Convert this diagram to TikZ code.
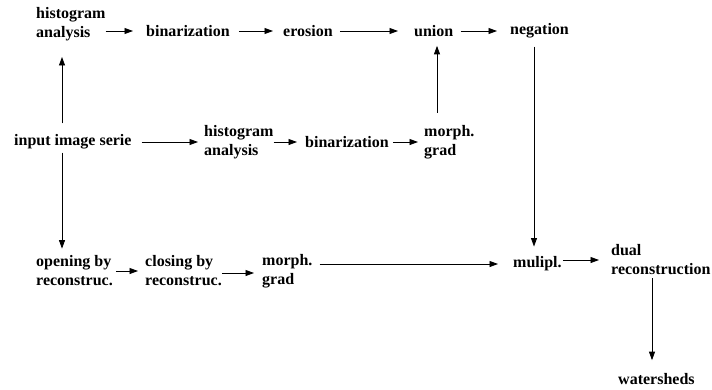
\documentclass[tikz,border=0pt]{standalone}
\usepackage{fontspec}
\setmainfont{Liberation Serif}
\usetikzlibrary{arrows.meta}
\begin{document}
\begin{tikzpicture}[x=1pt,y=-1pt,
  lbl/.style={anchor=west,inner sep=0pt,align=left,font=\fontsize{16}{19}\selectfont\bfseries},
  arr/.style={-{Triangle[length=8.5pt,width=6pt]},line width=0.8pt},
  ln/.style={line width=0.8pt}]
\useasboundingbox (0,0) rectangle (712,389);
% nodes
\node[lbl] (h1) at (36,24) {histogram\\analysis};
\node[lbl] (b1) at (146,31) {binarization};
\node[lbl] (e1) at (283,31) {erosion};
\node[lbl] (u) at (414,31) {union};
\node[lbl] (neg) at (510,31) {negation};
\node[lbl] (inp) at (14,142) {input image serie};
\node[lbl] (h2) at (204,142) {histogram\\analysis};
\node[lbl] (b2) at (305,142) {binarization};
\node[lbl] (g1) at (424,142) {morph.\\grad};
\node[lbl] (o) at (36,271) {opening by\\reconstruc.};
\node[lbl] (c) at (145,271) {closing by\\reconstruc.};
\node[lbl] (g2) at (262,271) {morph.\\grad};
\node[lbl] (m) at (513,264) {mulipl.};
\node[lbl] (d) at (611,260) {dual\\reconstruction};
\node[lbl] (w) at (618,379) {watersheds};
\coordinate (vx1) at (62,0);
\coordinate (vx2) at (437,0);
\coordinate (vx3) at (534,0);
\coordinate (vx4) at (652,0);
% top row
\draw[arr,shorten >=13pt] (h1.east |- b1.west) -- (b1.west);
\draw[arr,shorten <=9pt,shorten >=10pt] (b1.east) -- (e1.west);
\draw[arr,shorten <=7pt,shorten >=16pt] (e1.east) -- (u.west);
\draw[arr,shorten <=7pt,shorten >=13pt] (u.east) -- (neg.west);
% input verticals
\draw[arr,shorten <=11pt,shorten >=16pt] (inp.north -| vx1) -- (h1.south -| vx1);
\draw[arr,shorten <=3pt,shorten >=7pt] (inp.south -| vx1) -- (o.north -| vx1);
% middle row
\draw[arr,shorten <=10pt,shorten >=6pt] (inp.east) -- (h2.west);
\draw[arr,shorten >=8pt] (h2.east) -- (b2.west);
\draw[arr,shorten <=4pt,shorten >=6pt] (b2.east) -- (g1.west);
\draw[arr,shorten <=12pt,shorten >=9pt] (g1.north -| vx2) -- (u.south -| vx2);
% bottom row
\draw[arr,shorten <=3pt,shorten >=7pt] (o.east) -- (c.west);
\draw[arr,shorten >=8pt] ([yshift=-2pt]c.east) -- ([yshift=-2pt]c.east -| g2.west);
\draw[arr,shorten <=7pt,shorten >=15pt] (g2.east |- m.west) -- (m.west);
\draw[arr,shorten <=8pt,shorten >=10pt] (neg.south -| vx3) -- (m.north -| vx3);
\draw[arr,shorten <=1pt,shorten >=12pt] (m.east |- d.west) -- (d.west);
\draw[arr,shorten <=3pt,shorten >=13pt] (d.south -| vx4) -- (w.north -| vx4);
\end{tikzpicture}
\end{document}
